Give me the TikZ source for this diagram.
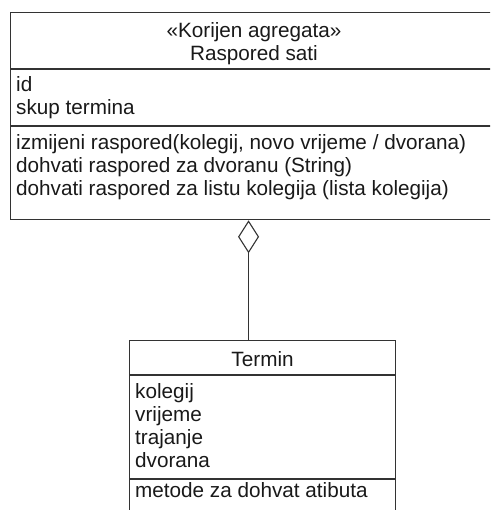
\documentclass[tikz,border=0pt]{standalone}
\usepackage{fontspec}
\setmainfont{Liberation Sans}
\usepackage{tikz}
\usetikzlibrary{arrows.meta}
\usetikzlibrary{positioning}
\tikzset{
  umlpart/.style={draw=black!80, line width=1.1pt, anchor=north west, inner sep=0pt},
  umltext/.style={anchor=north west, inner sep=0pt, align=left, text=black!90},
  aggr/.style={draw=black!80, line width=1.1pt, -{Diamond[open, length=33pt, width=21pt]}}
}

\begin{document}
\begin{tikzpicture}[x=1pt, y=-1pt, font=\fontsize{20.7}{23}\selectfont]
\useasboundingbox (0,0) rectangle (490,510);
\clip (0,0) rectangle (490,510);
\node[umlpart, minimum width=520, minimum height=56] (rastitle) at (10,12) {};
\node[umlpart, minimum width=520, minimum height=56, below=0pt of rastitle] (rasattr) {};
\node[umlpart, minimum width=520, minimum height=93, below=0pt of rasattr] (rasmeth) {};
\node[inner sep=0pt, align=center, text=black!90] (rastitletxt) at (254,44) {«Korijen agregata»\\Raspored sati};
\node[umltext, below right=7pt and 6pt of rasattr.north west] (rasattrtxt) {id\\skup termina};
\node[umltext, below right=8pt and 6pt of rasmeth.north west] (rasmethtxt) {izmijeni raspored(kolegij, novo vrijeme / dvorana)\\dohvati raspored za dvoranu (String)\\dohvati raspored za listu kolegija (lista kolegija)};

\node[umlpart, minimum width=266, minimum height=34, text height=18pt, text depth=0pt, text=black!90] (termin) at (129,340) {Termin};
\node[umlpart, minimum width=266, minimum height=103, below=0pt of termin] (terattr) {};
\node[umlpart, minimum width=266, minimum height=60, below=0pt of terattr] (termeth) {};
\node[umltext, below right=8pt and 6pt of terattr.north west] (terattrtxt) {kolegij\\vrijeme\\trajanje\\dvorana};
\node[umltext, below right=3pt and 6pt of termeth.north west] (termethtxt) {metode za dohvat atibuta};

\draw[aggr] ([xshift=-14pt]termin.north) -- ([xshift=-14pt]termin.north |- rasmeth.south);
\end{tikzpicture}
\end{document}
